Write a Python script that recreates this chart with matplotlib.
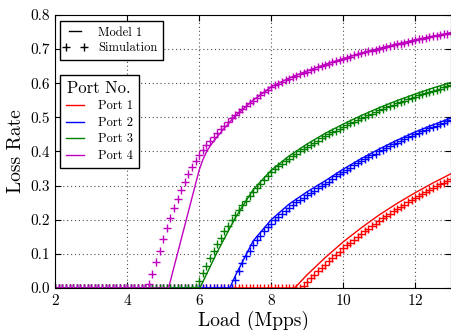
import numpy as np
import matplotlib
matplotlib.use('Agg')
import matplotlib.pyplot as plt
from matplotlib.lines import Line2D
from matplotlib.legend_handler import HandlerLine2D

plt.rcParams['font.family'] = 'serif'
plt.rcParams['font.serif'] = ['cmr10', 'DejaVu Serif']
plt.rcParams['mathtext.fontset'] = 'cm'
plt.rcParams['axes.formatter.use_mathtext'] = True

# simulation points, one every 0.1 Mpps from 2.0 to 13.0
loads = np.round(np.arange(2.0, 13.05, 0.1), 1)

port4_sim = [0.0] * 26 + [
    0.012, 0.040, 0.075, 0.110, 0.143, 0.175, 0.205, 0.234, 0.261, 0.287,
    0.311, 0.334, 0.355, 0.373, 0.389, 0.404, 0.418, 0.431, 0.443, 0.454,
    0.465, 0.476, 0.487, 0.498, 0.507, 0.516, 0.525, 0.533, 0.541, 0.549,
    0.557, 0.565, 0.573, 0.581, 0.588, 0.594, 0.599, 0.604, 0.608, 0.613,
    0.617, 0.622, 0.626, 0.630, 0.634, 0.638, 0.642, 0.646, 0.650, 0.654,
    0.657, 0.661, 0.664, 0.668, 0.671, 0.674, 0.677, 0.681, 0.684, 0.687,
    0.690, 0.693, 0.695, 0.698, 0.701, 0.704, 0.706, 0.709, 0.711, 0.714,
    0.716, 0.719, 0.721, 0.724, 0.726, 0.728, 0.730, 0.733, 0.735, 0.737,
    0.739, 0.741, 0.743, 0.745, 0.747]

port3_sim = [0.0] * 39 + [
    0.003, 0.020, 0.043, 0.066, 0.088, 0.110, 0.130, 0.148, 0.166, 0.183,
    0.198, 0.213, 0.228, 0.242, 0.256, 0.269, 0.282, 0.294, 0.306, 0.317,
    0.328, 0.339, 0.348, 0.356, 0.364, 0.371, 0.379, 0.386, 0.393, 0.400,
    0.407, 0.413, 0.420, 0.426, 0.432, 0.438, 0.444, 0.450, 0.456, 0.461,
    0.467, 0.472, 0.477, 0.482, 0.487, 0.492, 0.497, 0.502, 0.507, 0.511,
    0.516, 0.520, 0.524, 0.529, 0.533, 0.537, 0.541, 0.545, 0.549, 0.553,
    0.556, 0.560, 0.564, 0.567, 0.571, 0.574, 0.578, 0.581, 0.584, 0.588,
    0.591, 0.594]

port2_sim = [0.0] * 50 + [
    0.025, 0.050, 0.072, 0.093, 0.110, 0.125, 0.140, 0.153, 0.166, 0.178,
    0.189, 0.199, 0.209, 0.218, 0.227, 0.235, 0.243, 0.251, 0.258, 0.265,
    0.272, 0.279, 0.285, 0.292, 0.298, 0.305, 0.312, 0.320, 0.327, 0.333,
    0.340, 0.347, 0.353, 0.359, 0.365, 0.371, 0.377, 0.383, 0.389, 0.394,
    0.400, 0.405, 0.411, 0.416, 0.421, 0.426, 0.431, 0.436, 0.441, 0.445,
    0.450, 0.455, 0.459, 0.463, 0.468, 0.472, 0.476, 0.480, 0.484, 0.488,
    0.492]

port1_sim = [0.0] * 69 + [
    0.007, 0.018, 0.029, 0.039, 0.049, 0.060, 0.069, 0.079, 0.089, 0.098,
    0.107, 0.116, 0.125, 0.133, 0.142, 0.150, 0.158, 0.166, 0.174, 0.181,
    0.189, 0.196, 0.204, 0.211, 0.218, 0.225, 0.231, 0.238, 0.244, 0.251,
    0.257, 0.263, 0.269, 0.275, 0.281, 0.287, 0.293, 0.298, 0.304, 0.309,
    0.315, 0.320]

# model curves
port1_model_x = [2, 8.65, 9.0, 9.5, 10, 10.5, 11, 11.5, 12, 12.5, 13]
port1_model_y = [0, 0, 0.039, 0.089, 0.135, 0.176, 0.214, 0.248, 0.279, 0.308, 0.335]

port2_model_x = [2, 6.85, 7.0, 7.5, 8.0, 8.5, 9.0, 9.5, 10, 10.5, 11, 11.5, 12, 12.5, 13]
port2_model_y = [0, 0, 0.035, 0.138, 0.2, 0.246, 0.282, 0.314, 0.348, 0.379, 0.407,
                 0.433, 0.457, 0.478, 0.498]

port3_model_x = [2, 6.02, 6.5, 7.0, 7.5, 8.0, 8.5, 9.0, 9.5, 10, 10.5, 11, 11.5, 12, 12.5, 13]
port3_model_y = [0, 0, 0.105, 0.205, 0.288, 0.345, 0.387, 0.422, 0.453, 0.48, 0.505,
                 0.528, 0.549, 0.568, 0.586, 0.602]

port4_model_x = [2, 5.15, 6.0, 6.1, 6.2, 6.3, 6.5, 6.7, 7.0, 7.5, 8.0, 8.5, 9.0, 9.5,
                 10, 10.5, 11, 11.5, 12, 12.5, 13]
port4_model_y = [0, 0, 0.345, 0.375, 0.398, 0.415, 0.443, 0.468, 0.504, 0.55, 0.589,
                 0.615, 0.636, 0.655, 0.672, 0.688, 0.702, 0.715, 0.727, 0.738, 0.748]

port_names = ['Port 1', 'Port 2', 'Port 3', 'Port 4']
colors = ['r', 'b', 'g', 'm']

sims = [port1_sim, port2_sim, port3_sim, port4_sim]
models = [(port1_model_x, port1_model_y), (port2_model_x, port2_model_y),
          (port3_model_x, port3_model_y), (port4_model_x, port4_model_y)]

fig = plt.figure(figsize=(4.52, 3.30), dpi=100)
ax = fig.add_axes([0.122, 0.127, 0.876, 0.828])

for sim, (mx, my), c in zip(sims, models, colors):
    ax.plot(mx, my, '-', color=c, lw=1.0)
    ax.plot(loads, sim, '+', color=c, ms=5.5, mew=1.0)

ax.set_xlim(2, 13)
ax.set_ylim(0, 0.8)
ax.set_xticks([2, 4, 6, 8, 10, 12])
ax.set_yticks(np.arange(0, 0.81, 0.1))
ax.set_yticklabels(['%.1f' % v for v in np.arange(0, 0.81, 0.1)])
ax.tick_params(direction='in', top=True, right=True, labelsize=11, length=4)
ax.grid(True, linestyle=(0, (1, 2.5)), color='0.3', lw=0.8)
ax.set_xlabel('Load (Mpps)', fontsize=14, labelpad=2)
ax.set_ylabel('Loss Rate', fontsize=14, labelpad=4)

# legend for line style
model_handle = Line2D([], [], color='k', ls='-', lw=1.0)
sim_handle = Line2D([], [], color='k', ls='', marker='+', ms=5.5, mew=1.0)
leg1 = ax.legend([model_handle, sim_handle], ['Model 1', 'Simulation'],
                 loc='upper left', bbox_to_anchor=(0.012, 0.978), borderaxespad=0,
                 fontsize=9, numpoints=2, fancybox=False, framealpha=1,
                 edgecolor='k', handlelength=1.5, handletextpad=1.1,
                 borderpad=0.45, labelspacing=0.3,
                 handler_map={sim_handle: HandlerLine2D(marker_pad=0)})
leg1.get_frame().set_linewidth(1.0)
ax.add_artist(leg1)

# legend for ports
port_handles = [Line2D([], [], color=c, lw=1.0) for c in colors]
leg2 = ax.legend(port_handles, port_names, loc='upper left', title='Port No.',
                 bbox_to_anchor=(0.012, 0.78), borderaxespad=0, fontsize=9,
                 title_fontsize=12, fancybox=False, framealpha=1, edgecolor='k',
                 handlelength=1.5, handletextpad=1.1, borderpad=0.45,
                 labelspacing=0.35)
leg2.get_frame().set_linewidth(1.0)

fig.savefig('out.png', dpi=100)
